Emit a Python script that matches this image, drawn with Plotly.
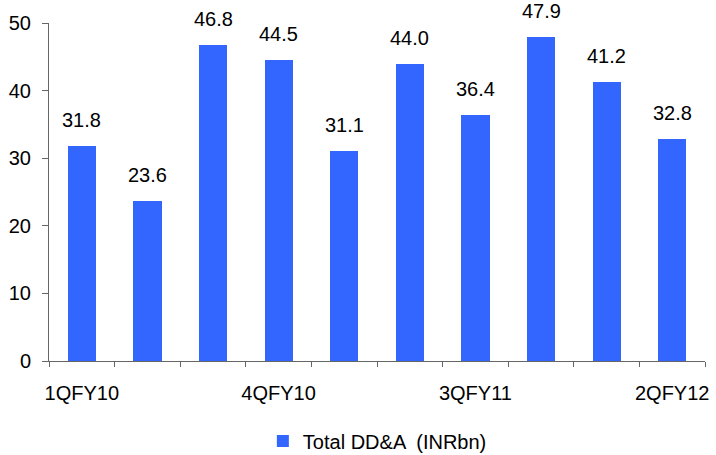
import plotly.graph_objects as go

# Quarterly total depreciation, depletion & amortisation (INR bn)
quarters = ["1QFY10", "2QFY10", "3QFY10", "4QFY10", "1QFY11",
            "2QFY11", "3QFY11", "4QFY11", "1QFY12", "2QFY12"]
dda = [31.8, 23.6, 46.8, 44.5, 31.1, 44.0, 36.4, 47.9, 41.2, 32.8]
series_name = "Total DD&A  (INRbn)"
y_ticks = [0, 10, 20, 30, 40, 50]
label_every = 3

FONT = "Liberation Sans, Arial, sans-serif"
BAR = "#3366FF"
AXIS = "#666666"

pos = list(range(len(quarters)))

fig = go.Figure()
fig.add_trace(go.Bar(
    x=pos, y=dda, name=series_name, width=0.43,
    marker=dict(color=BAR, line=dict(width=0)),
    showlegend=True,
))

# value labels above each bar
for xi, v in zip(pos, dda):
    fig.add_annotation(x=xi, y=v, text=f"{v:.1f}", showarrow=False,
                       yanchor="bottom", yshift=13,
                       font=dict(family=FONT, size=20, color="#000000"))

shown = pos[::label_every]
fig.update_layout(
    width=716, height=455,
    margin=dict(l=49, r=11, t=23, b=94, autoexpand=False),
    paper_bgcolor="white", plot_bgcolor="white",
    font=dict(family=FONT, size=20, color="#000000"),
    bargap=0,
    legend=dict(orientation="h", x=0.326, xanchor="left",
                yref="container", y=0.031, yanchor="middle",
                font=dict(family=FONT, size=20, color="#000000"),
                bgcolor="rgba(0,0,0,0)", itemwidth=30),
    xaxis=dict(range=[-0.5, len(quarters) - 0.5], automargin=False,
               tickmode="array", tickvals=shown,
               ticktext=[quarters[i] for i in shown],
               ticks="", showline=True, linecolor=AXIS, linewidth=1,
               showgrid=False, zeroline=False, ticklabelstandoff=14,
               tickfont=dict(family=FONT, size=20, color="#000000"),
               minor=dict(tickmode="linear", tick0=-0.5, dtick=1,
                          ticks="outside", ticklen=5, tickcolor=AXIS,
                          tickwidth=1, showgrid=False)),
    yaxis=dict(range=[0, 50], tickmode="array", tickvals=y_ticks, automargin=False,
               ticks="outside", ticklen=6, tickcolor=AXIS, tickwidth=1,
               showline=True, linecolor=AXIS, linewidth=1,
               showgrid=False, zeroline=False, ticklabelstandoff=7,
               tickfont=dict(family=FONT, size=20, color="#000000")),
)

fig.write_html("out.html")
